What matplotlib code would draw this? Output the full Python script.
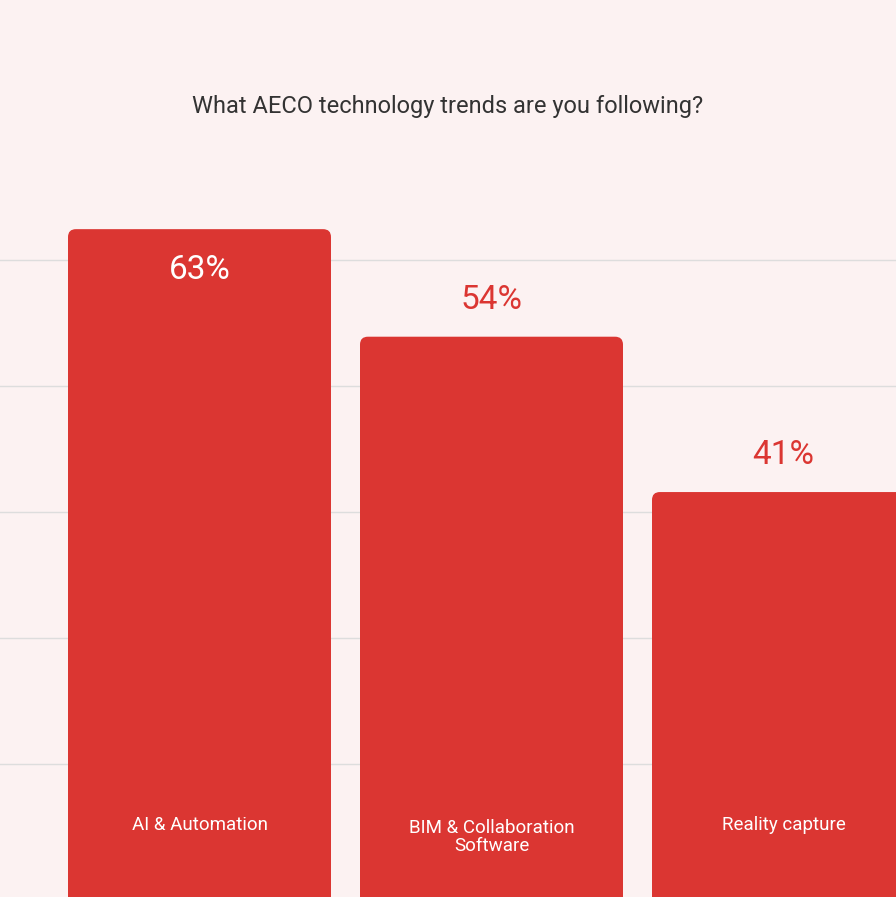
import matplotlib
matplotlib.use("Agg")
import matplotlib.pyplot as plt
from matplotlib.patches import FancyBboxPatch

categories = ["AI & Automation", "BIM & Collaboration\nSoftware", "Reality capture"]
values = [63, 54, 41]
labels = ["63%", "54%", "41%"]
title = "What AECO technology trends are you following?"

bg = "#fcf2f2"
red = "#db3632"
plt.rcParams["font.family"] = "Roboto"

fig = plt.figure(figsize=(8.96, 8.97), dpi=100, facecolor=bg)
ax = fig.add_axes([0, 0, 1, 1], facecolor=bg)
ppu_y = 11.95
zero_px = 982
ax.set_ylim((zero_px - 897) / ppu_y, zero_px / ppu_y)
ax.set_xlim(-199.5 / 292, (896 - 199.5) / 292)
for s in ax.spines.values():
    s.set_visible(False)
ax.set_xticks([]); ax.set_yticks([])

for gpx in [260, 386, 512, 638, 764]:
    ax.axhline((zero_px - gpx) / ppu_y, color="#dddddd", lw=1, zorder=0)

w = 263 / 292
ymin = ax.get_ylim()[0] - 5
for i, (c, v, l) in enumerate(zip(categories, values, labels)):
    p = FancyBboxPatch((i - w / 2, ymin), w, v - ymin,
                       boxstyle="round,pad=0,rounding_size=0.027",
                       mutation_aspect=292 / ppu_y, fc=red, ec="none", zorder=2)
    ax.add_patch(p)
    if i == 0:
        ax.text(i, v - 3.4, l, ha="center", va="center", color="white", fontsize=24, zorder=3)
    else:
        ax.text(i, v + 3.1, l, ha="center", va="center", color=red, fontsize=24, zorder=3)
    ax.text(i, (zero_px - 825) / ppu_y, c, ha="center", va="top", color="white",
            fontsize=13.5, linespacing=1.0, zorder=3,
            transform=ax.transData).set_va("center") if "\n" not in c else \
        ax.text(i, (zero_px - 837) / ppu_y, c, ha="center", va="center", color="white",
                fontsize=13.5, linespacing=1.0, zorder=3)

fig.text(0.5, 1 - 107 / 897, title, ha="center", va="center", color="#333333", fontsize=17)
fig.savefig("out.png", dpi=100, facecolor=bg)
